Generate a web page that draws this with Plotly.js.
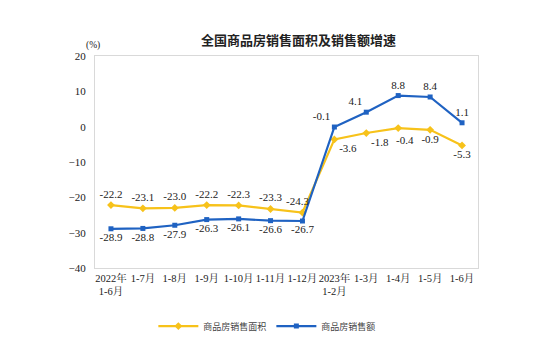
<!DOCTYPE html>
<html><head><meta charset="utf-8">
<script src="https://cdn.plot.ly/plotly-3.0.1.min.js"></script>
<style>body{margin:0;background:#fff}#c{width:553px;height:351px}</style>
</head><body><div id="c"></div>
<script>
const categories = ["2022年<br>1-6月","1-7月","1-8月","1-9月","1-10月","1-11月","1-12月","2023年<br>1-2月","1-3月","1-4月","1-5月","1-6月"];
const areaGrowth = [-22.2,-23.1,-23.0,-22.2,-22.3,-23.3,-24.3,-3.6,-1.8,-0.4,-0.9,-5.3];
const salesGrowth = [-28.9,-28.8,-27.9,-26.3,-26.1,-26.6,-26.7,-0.1,4.1,8.8,8.4,1.1];
const areaName = "商品房销售面积";
const salesName = "商品房销售额";

const fmt = v => v.toFixed(1);
const serif = "'Liberation Serif', 'Noto Serif CJK SC', 'Noto Sans CJK SC', serif";
const yellow = "#F7C21A", blue = "#1F62C2";

// crowded yellow labels placed as annotations with a small pixel nudge: index -> [xshift, yshift]
const areaNudge = {6: [-5, 12], 9: [7, -12]};
const areaText = areaGrowth.map((v, i) => (i in areaNudge) ? "" : fmt(v));
const areaPos = ["top center","top center","top center","top center","top center","top center","top center","bottom right","bottom right","bottom center","bottom center","bottom center"];
const salesPos = ["bottom center","bottom center","bottom center","bottom center","bottom center","bottom center","bottom center","top left","top left","top center","top center","top center"];

const traces = [
 {x: categories, y: areaGrowth, name: areaName, type: "scatter", mode: "lines+markers+text",
  line: {color: yellow, width: 2.2}, marker: {symbol: "diamond", size: 6, color: yellow},
  text: areaText, textposition: areaPos, textfont: {family: serif, size: 11, color: "#222"}, cliponaxis: false},
 {x: categories, y: salesGrowth, name: salesName, type: "scatter", mode: "lines+markers+text",
  line: {color: blue, width: 2.2}, marker: {symbol: "square", size: 5, color: blue},
  text: salesGrowth.map(fmt), textposition: salesPos, textfont: {family: serif, size: 11, color: "#222"}, cliponaxis: false}
];

const nudged = Object.keys(areaNudge).map(k => {
  const i = +k;
  return {text: fmt(areaGrowth[i]), xref: "x", yref: "y", x: categories[i], y: areaGrowth[i],
    showarrow: false, xshift: areaNudge[k][0], yshift: areaNudge[k][1],
    font: {family: serif, size: 11, color: "#222"}};
});

const layout = {
 width: 553, height: 351,
 margin: {l: 95, r: 75, t: 56, b: 82},
 paper_bgcolor: "#fff", plot_bgcolor: "#fff",
 title: {text: "<b>全国商品房销售面积及销售额增速</b>", x: 0.54, xanchor: "center", y: 0.885, yanchor: "middle",
   font: {family: "'Noto Sans CJK SC', sans-serif", size: 13, color: "#222"}},
 xaxis: {type: "category", range: [-0.5, 11.5], showgrid: false, zeroline: false,
   showline: true, linecolor: "#d9d9d9", linewidth: 1, mirror: true, tickangle: 0,
   ticks: "", tickfont: {family: serif, size: 10.5, color: "#222"}, fixedrange: true},
 yaxis: {range: [-40, 20], dtick: 10, showgrid: false, zeroline: false,
   showline: true, linecolor: "#d9d9d9", linewidth: 1, mirror: true,
   ticks: "", tickfont: {family: serif, size: 11, color: "#222"}, ticklabelstandoff: 6},
 showlegend: true,
 legend: {orientation: "h", x: 0.45, xanchor: "center", y: -0.2, yanchor: "top",
   font: {family: "'Noto Sans CJK SC', sans-serif", size: 9, color: "#444"}, itemwidth: 40},
 annotations: [
  {text: "(%)", xref: "paper", yref: "paper", x: -0.03, y: 1.085, showarrow: false,
   font: {family: serif, size: 9.5, color: "#222"}}
 ].concat(nudged)
};
Plotly.newPlot("c", traces, layout, {displayModeBar: false, staticPlot: true});
</script></body></html>
